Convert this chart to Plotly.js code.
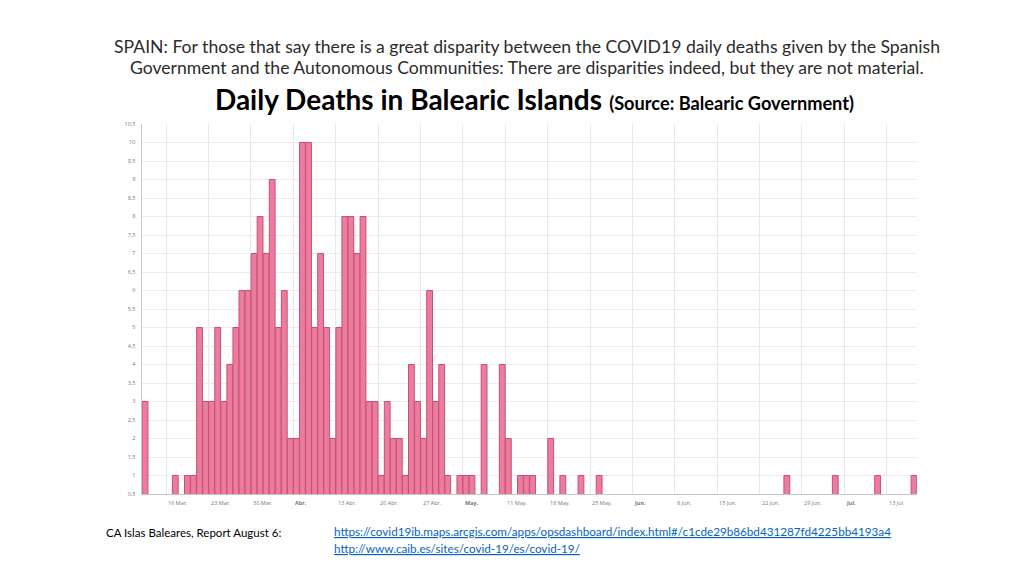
<!DOCTYPE html>
<html>
<head>
<meta charset="utf-8">
<script src="https://cdn.plot.ly/plotly-3.0.1.min.js"></script>
<style>
html,body{margin:0;padding:0;background:#fff;}
#chart{width:1024px;height:576px;}
</style>
</head>
<body>
<div id="chart"></div>
<script>
// ---- data ----
const dates = [
  '2020-03-12','2020-03-17','2020-03-19','2020-03-20','2020-03-21','2020-03-22','2020-03-23',
  '2020-03-24','2020-03-25','2020-03-26','2020-03-27','2020-03-28','2020-03-29','2020-03-30',
  '2020-03-31','2020-04-01','2020-04-02','2020-04-03','2020-04-04','2020-04-05','2020-04-06',
  '2020-04-07','2020-04-08','2020-04-09','2020-04-10','2020-04-11','2020-04-12','2020-04-13',
  '2020-04-14','2020-04-15','2020-04-16','2020-04-17','2020-04-18','2020-04-19','2020-04-20',
  '2020-04-21','2020-04-22','2020-04-23','2020-04-24','2020-04-25','2020-04-26','2020-04-27',
  '2020-04-28','2020-04-29','2020-04-30','2020-05-01','2020-05-03','2020-05-04','2020-05-05',
  '2020-05-07','2020-05-10','2020-05-11','2020-05-13','2020-05-14','2020-05-15','2020-05-18',
  '2020-05-20','2020-05-23','2020-05-26','2020-06-26','2020-07-04','2020-07-11','2020-07-17'
];
const deaths = [
  3,1,1,1,5,3,3,
  5,3,4,5,6,6,7,
  8,7,9,5,6,2,2,
  10,10,5,7,5,2,5,
  8,8,7,8,3,3,1,
  3,2,2,1,4,3,2,
  6,3,4,1,1,1,1,
  4,4,2,1,1,1,2,
  1,1,1,1,1,1,1
];
const tickDates = [
  '2020-03-16','2020-03-23','2020-03-30','2020-04-06','2020-04-13','2020-04-20','2020-04-27',
  '2020-05-04','2020-05-11','2020-05-18','2020-05-25','2020-06-01','2020-06-08','2020-06-15',
  '2020-06-22','2020-06-29','2020-07-06','2020-07-13'
];
const tickLabels = [
  '16 Mar.','23 Mar.','30 Mar.','<b>Abr.</b>','13 Abr.','20 Abr.','27 Abr.',
  '<b>May.</b>','11 May.','18 May.','25 May.','<b>Jun.</b>','8 Jun.','15 Jun.',
  '22 Jun.','29 Jun.','<b>Jul.</b>','13 Jul.'
];
const xRange = ['2020-03-12','2020-07-18'];
const yRange = [0.5, 10.5];

const headline1 = 'SPAIN: For those that say there is a great disparity between the COVID19 daily deaths given by the Spanish';
const headline2 = 'Government and the Autonomous Communities: There are disparities indeed, but they are not material.';
const chartTitle = 'Daily Deaths in Balearic Islands';
const chartSource = '(Source: Balearic Government)';
const footLabel = 'CA Islas Baleares, Report August 6:';
const link1 = 'https://covid19ib.maps.arcgis.com/apps/opsdashboard/index.html#/c1cde29b86bd431287fd4225bb4193a4';
const link2 = 'http://www.caib.es/sites/covid-19/es/covid-19/';

// ---- layout geometry ----
const W = 1024, H = 576;
const M = {l:142, r:107, t:124, b:82};
const pw = W - M.l - M.r, ph = H - M.t - M.b;
const px2x = x => (x - M.l) / pw;
const px2y = y => (H - M.b - y) / ph;

const headFont = 'Lato, Open Sans, sans-serif';
const smallFont = 'Open Sans, Liberation Sans, sans-serif';

const annotations = [];
annotations.push({xref:'paper', yref:'paper', x:px2x(527), y:px2y(47), xanchor:'center', yanchor:'middle',
  text:headline1, showarrow:false, font:{family:headFont, size:17.6, color:'#2b2b2b'}});
annotations.push({xref:'paper', yref:'paper', x:px2x(527), y:px2y(67), xanchor:'center', yanchor:'middle',
  text:headline2, showarrow:false, font:{family:headFont, size:17.6, color:'#2b2b2b'}});
annotations.push({xref:'paper', yref:'paper', x:px2x(104), y:px2y(532), xanchor:'left', yanchor:'middle',
  text:footLabel, showarrow:false, font:{family:headFont, size:11.5, color:'#000'}});
annotations.push({xref:'paper', yref:'paper', x:px2x(332), y:px2y(531), xanchor:'left', yanchor:'middle',
  text:link1, showarrow:false, font:{family:headFont, size:11.7, color:'#0563C1', lineposition:'under'}});
annotations.push({xref:'paper', yref:'paper', x:px2x(332), y:px2y(548), xanchor:'left', yanchor:'middle',
  text:link2, showarrow:false, font:{family:headFont, size:11.7, color:'#0563C1', lineposition:'under'}});
// x tick labels, left-aligned on their gridlines
tickDates.forEach((d, i) => {
  annotations.push({xref:'x', yref:'paper', x:d, y:0, xanchor:'left', yanchor:'top', yshift:-3, xshift:0,
    text:tickLabels[i], showarrow:false, font:{family:smallFont, size:5.5, color:'#777'}});
});

const trace = {
  type:'bar',
  x: dates,
  y: deaths,
  xperiod: 86400000,
  xperiodalignment: 'middle',
  marker: {color:'#ea7d9e', line:{color:'#cc4d76', width:1}},
  hoverinfo:'x+y'
};

const layout = {
  width: W, height: H,
  margin: M,
  paper_bgcolor:'#fff', plot_bgcolor:'#fff',
  separators: ',.',
  showlegend:false,
  bargap: 0.04,
  title: {
    text: '<b>' + chartTitle + '</b> <span style="font-size:18.2px"><b>' + chartSource + '</b></span>',
    xref:'container', yref:'container', x: 534.5/W, y: 1 - 100/H, xanchor:'center', yanchor:'middle',
    font:{family:headFont, size:28, color:'#000'}
  },
  xaxis: {
    type:'date', range:xRange, tickmode:'array', tickvals:tickDates, showticklabels:false,
    showgrid:true, gridcolor:'#e9e9e9', gridwidth:1, zeroline:false,
    showline:true, linecolor:'#c8c8c8', linewidth:1, ticks:''
  },
  yaxis: {
    range:yRange, dtick:0.5, tick0:0.5, showgrid:true, gridcolor:'#ececec', gridwidth:1,
    zeroline:false, showline:true, linecolor:'#c8c8c8', linewidth:1.5, ticks:'',
    ticklabelstandoff:4,
    tickfont:{family:smallFont, size:5.5, color:'#777'}
  },
  annotations: annotations
};

Plotly.newPlot('chart', [trace], layout, {displayModeBar:false, staticPlot:true});
</script>
</body>
</html>
